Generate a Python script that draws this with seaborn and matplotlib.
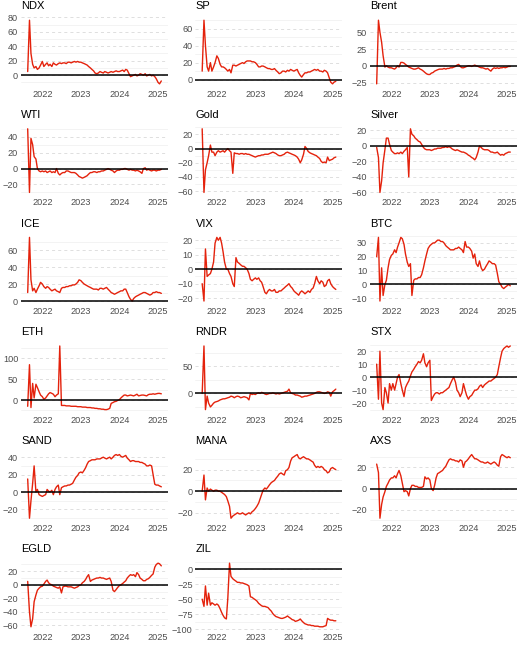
import pandas as pd
import matplotlib.pyplot as plt
import matplotlib.dates as mdates
from matplotlib.ticker import AutoMinorLocator
import seaborn as sns

# half-monthly observation dates (1st and 15th)
dates = pd.date_range('2021-08-15', '2025-02-01', freq='SMS')

assets = ['NDX', 'SP', 'Brent', 'WTI', 'Gold', 'Silver', 'ICE', 'VIX', 'BTC',
          'ETH', 'RNDR', 'STX', 'SAND', 'MANA', 'AXS', 'EGLD', 'ZIL']

# values, grouped: 2021 | 2022 | 2023 | 2024 | 2025
ndx = [5, 76, 30, 15, 10, 12, 8, 10, 14,
       19, 12, 15, 17, 13, 15, 12, 17, 15, 14, 16, 17, 16, 17, 17, 16, 18, 18, 17, 18, 19, 18, 19, 18,
       18, 17, 16, 15, 14, 12, 10, 8, 6, 3, 2, 3, 5, 4, 3, 5, 4, 3, 4, 5, 4, 5, 6, 5,
       5, 6, 7, 5, 8, 7, 2, -2, -1, 0, 1, -1, 0, 2, 1, 0, 2, -1, 0, 1, -1, 0, -2, -5,
       -10, -12, -8]
sp = [10, 70, 40, 15, 10, 20, 10, 15, 20,
      28, 25, 18, 15, 15, 14, 12, 10, 12, 8, 17, 17, 16, 17, 18, 19, 20, 19, 21, 22, 22, 22, 21, 21,
      20, 18, 15, 15, 16, 16, 15, 14, 13, 13, 12, 12, 13, 11, 9, 7, 8, 10, 10, 9, 11, 10, 12, 11,
      10, 11, 12, 8, 5, 3, 6, 8, 8, 9, 9, 10, 11, 12, 11, 12, 10, 10, 9, 11, 10, 8, 2, -3,
      -5, -3, -2]
brent = [-27, 68, 50, 35, 15, -2, 0, -2, -3,
         -3, -4, -5, -3, 0, -2, 5, 5, 4, 2, 0, -2, -3, -4, -5, -5, -4, -3, -5, -6, -8, -10, -12, -13,
         -13, -11, -10, -8, -7, -6, -5, -5, -5, -4, -5, -4, -4, -3, -3, -2, -1, 1, 2, -1, -3, -3, -2, -1,
         0, 0, -1, 0, 1, 0, -1, -2, -3, -3, -4, -5, -4, -6, -8, -5, -3, -4, -3, -4, -3, -3, -2, -3,
         -2, -1, -1]
wti = [50, -30, 38, 30, 15, 12, 0, -3, -4,
       -3, -4, -3, -5, -4, -3, -5, -4, -5, 0, -6, -8, -6, -5, -5, -3, -3, -4, -5, -5, -5, -6, -8, -10,
       -11, -12, -11, -10, -9, -7, -5, -5, -4, -4, -5, -4, -4, -3, -3, -2, -1, 0, -1, -2, -3, -5, -3, -2,
       -2, -1, -1, 0, 0, -1, -2, -1, -2, -2, -3, -2, -3, -4, -6, 0, 1, -2, -1, -2, -3, -2, -2, -3,
       -2, -2, -1]
gold = [28, -62, -30, -20, -10, 5, -5, -5, -10,
        -5, -3, -5, -4, -3, -5, -2, 0, -3, -5, -35, -6, -7, -7, -8, -7, -7, -8, -7, -8, -8, -9, -10, -11,
        -12, -11, -10, -10, -9, -9, -8, -8, -8, -7, -6, -5, -6, -7, -9, -10, -10, -9, -8, -6, -5, -6, -7, -8,
        -9, -10, -12, -15, -20, -16, -8, 3, 0, -4, -6, -7, -8, -9, -10, -12, -14, -18, -20, -19, -20, -12, -17, -16,
        -15, -13, -12]
silver = [-2, -15, -60, -45, -22, -5, 10, 10, 2,
          -6, -8, -10, -10, -9, -10, -8, -10, -7, -5, -2, -40, 22, 15, 13, 10, 8, 6, 5, 2, -2, -4, -5, -5,
          -5, -6, -5, -4, -4, -3, -3, -3, -2, -2, -1, -2, -1, -2, -4, -5, -6, -5, -6, -7, -8, -8, -9, -10,
          -12, -13, -15, -16, -18, -15, -8, 0, -2, -4, -5, -5, -5, -6, -8, -8, -9, -9, -8, -10, -12, -11, -12, -10,
          -9, -8, -8]
ice = [10, 75, 25, 12, 15, 10, 14, 18, 22,
       20, 17, 15, 17, 16, 14, 12, 13, 14, 12, 11, 10, 15, 16, 16, 17, 17, 18, 18, 19, 19, 20, 22, 25,
       24, 22, 20, 19, 18, 17, 16, 15, 14, 14, 14, 13, 15, 15, 14, 15, 16, 14, 12, 10, 9, 8, 9, 10,
       11, 12, 12, 14, 14, 10, 5, 2, 0, 3, 5, 6, 7, 8, 9, 10, 10, 9, 8, 7, 8, 10, 10, 11,
       10, 10, 9]
vix = [-10, -22, 14, -5, -4, -3, 0, 5, 18,
       22, 20, 22, 18, 12, 5, 0, 0, -3, -5, -10, -12, 8, 5, 4, 3, 2, 2, 1, 0, -3, -7, -8, -7,
       -6, -7, -6, -8, -9, -12, -16, -17, -15, -14, -15, -15, -14, -16, -16, -15, -15, -14, -13, -12, -11, -10, -12, -13,
       -15, -16, -17, -18, -16, -15, -16, -17, -16, -15, -16, -14, -13, -10, -5, -8, -10, -8, -9, -12, -11, -8, -7, -10,
       -12, -13, -14]
btc = [20, 34, -12, 12, -8, 0, 3, 12, 18,
       21, 22, 25, 23, 27, 30, 34, 33, 29, 22, 16, 13, 15, -8, 3, 4, 4, 5, 5, 7, 12, 17, 22, 26,
       28, 29, 30, 30, 31, 32, 32, 31, 31, 30, 28, 27, 26, 25, 25, 25, 26, 26, 27, 26, 25, 23, 31, 27,
       27, 26, 24, 19, 22, 15, 13, 17, 12, 10, 11, 13, 15, 17, 16, 15, 15, 14, 8, 2, 0, -2, -3, -2,
       -1, 0, -1]
eth = [-15, 85, -18, 40, 5, 38, 30, 20, 12,
       8, 2, 5, 10, 15, 18, 16, 14, 8, 12, 15, 130, -13, -13, -13, -14, -14, -14, -15, -15, -15, -15, -16, -16,
       -16, -17, -17, -17, -18, -18, -18, -19, -19, -20, -20, -21, -21, -22, -22, -23, -23, -22, -20, -8, -6, -4, -3, -1,
       1, 5, 9, 12, 12, 10, 11, 12, 11, 10, 12, 14, 10, 11, 12, 12, 11, 10, 13, 14, 14, 15, 14, 15,
       16, 16, 15]
rndr = [0, 88, -30, -5, -18, -25, -22, -18, -16,
        -15, -14, -12, -11, -10, -10, -9, -8, -7, -5, -6, -8, -6, -5, -6, -8, -7, -6, -7, -8, -12, 0, -2, -1,
        -2, 0, 1, 0, 2, 1, -1, -2, -1, 0, 0, 1, 0, -1, 0, -1, 0, 1, 2, 3, 4, 8, 1, 0,
        -1, -3, -3, -4, -5, -7, -6, -5, -5, -4, -3, -2, -1, 0, 2, 3, 3, 2, 1, 0, 1, 3, 2, -5,
        3, 5, 8]
stx = [10, -17, 20, -20, -25, -8, -12, -20, -5,
       -10, -5, -10, -5, 0, 2, -5, -10, -15, -8, -5, -3, 1, 4, 6, 8, 10, 12, 11, 13, 18, 11, 8, 11,
       13, -18, -15, -13, -12, -12, -13, -12, -12, -11, -10, -9, -8, -5, -2, 0, -4, -10, -12, -15, -12, -5, -10, -14,
       -17, -15, -14, -12, -10, -10, -9, -7, -6, -8, -6, -5, -4, -3, -3, -2, -1, 0, 2, 8, 15, 20, 22, 23,
       24, 23, 24]
sand = [15, -30, -10, 10, 30, 0, 3, -3, -4,
        -5, -4, -3, 3, 1, 0, 2, -3, 3, 6, 8, -3, 5, 6, 7, 7, 8, 8, 9, 10, 14, 17, 19, 22,
        23, 22, 25, 28, 32, 35, 36, 37, 37, 37, 38, 38, 38, 39, 40, 39, 38, 39, 40, 38, 40, 42, 43, 42,
        43, 41, 40, 41, 42, 39, 37, 35, 36, 36, 35, 35, 35, 34, 34, 33, 32, 30, 30, 31, 30, 20, 9, 8,
        8, 7, 6]
mana = [0, 15, -8, 3, 0, 2, 1, 0, 1,
        1, 0, 0, -1, -2, -3, -5, -9, -14, -25, -23, -22, -21, -20, -21, -21, -20, -21, -22, -21, -20, -21, -19, -18,
        -16, -14, -11, -7, -3, 1, 3, 2, 4, 6, 8, 9, 10, 12, 14, 16, 17, 16, 15, 19, 20, 22, 28, 31,
        32, 33, 34, 31, 30, 31, 32, 31, 30, 30, 29, 28, 27, 24, 22, 23, 22, 23, 22, 20, 19, 17, 18, 21,
        22, 21, 20]
axs = [23, 15, -28, -15, -8, -3, 2, 5, 8,
       10, 10, 12, 10, 14, 17, 12, 5, -3, -2, -3, -7, 0, 3, 3, 2, 2, 1, 1, 1, 2, 11, 9, 10,
       8, 0, -2, 3, 10, 14, 15, 16, 17, 19, 21, 24, 27, 28, 27, 27, 26, 26, 25, 27, 26, 20, 25, 26,
       28, 30, 32, 30, 28, 28, 27, 26, 25, 25, 24, 24, 25, 24, 23, 24, 25, 24, 22, 21, 30, 32, 31, 30,
       29, 30, 29]
egld = [5, -40, -62, -50, -25, -15, -8, -5, -3,
        -2, 1, 5, 7, 3, 1, 0, -2, -3, -4, -5, -3, -12, -3, -2, -2, -3, -3, -3, -4, -5, -4, -3, -1,
        0, 3, 5, 8, 12, 15, 5, 7, 8, 9, 10, 10, 11, 10, 10, 9, 8, 9, 10, 5, -8, -10, -7, -4,
        -1, 0, 2, 4, 6, 10, 13, 15, 14, 15, 12, 18, 15, 10, 8, 6, 6, 8, 9, 11, 14, 16, 26, 30,
        32, 31, 28]
zil = [-50, -62, -28, -60, -40, -60, -56, -58, -60,
       -58, -60, -66, -72, -77, -81, -83, -48, 10, -12, -16, -18, -20, -22, -22, -23, -23, -24, -25, -26, -28, -46, -47, -49,
       -51, -53, -57, -59, -61, -62, -62, -63, -64, -67, -70, -74, -77, -79, -80, -81, -82, -82, -81, -80, -78, -80, -82, -84,
       -85, -87, -86, -85, -83, -86, -89, -91, -92, -93, -93, -94, -94, -95, -95, -95, -96, -96, -96, -95, -94, -82, -84, -85,
       -85, -86, -86]

series = [ndx, sp, brent, wti, gold, silver, ice, vix, btc,
          eth, rndr, stx, sand, mana, axs, egld, zil]

y_ticks = {
    'NDX': [0, 20, 40, 60, 80], 'SP': [0, 20, 40, 60], 'Brent': [-25, 0, 25, 50],
    'WTI': [-20, 0, 20, 40], 'Gold': [-60, -40, -20, 0, 20], 'Silver': [-60, -40, -20, 0, 20],
    'ICE': [0, 20, 40, 60], 'VIX': [-20, -10, 0, 10, 20], 'BTC': [-10, 0, 10, 20, 30],
    'ETH': [0, 50, 100], 'RNDR': [0, 50], 'STX': [-20, -10, 0, 10, 20],
    'SAND': [-20, 0, 20, 40], 'MANA': [-20, 0, 20], 'AXS': [-20, 0, 20],
    'EGLD': [-60, -40, -20, 0, 20], 'ZIL': [-100, -75, -50, -25, 0],
}

df = pd.concat([pd.DataFrame({'date': dates, 'asset': a, 'value': v})
                for a, v in zip(assets, series)], ignore_index=True)

sns.set_theme(style='white')
plt.rcParams['font.family'] = ['Liberation Sans', 'DejaVu Sans']

fig, axes = plt.subplots(6, 3, figsize=(5.2, 6.45), dpi=100)
plt.subplots_adjust(left=0.0404, right=0.9942, top=0.9736, bottom=0.0233,
                    wspace=0.187, hspace=0.551)

for ax, name in zip(axes.flat, assets):
    sub = df[df['asset'] == name]
    sns.lineplot(data=sub, x='date', y='value', ax=ax, color='#e4220c', linewidth=1.0)
    ax.axhline(0, color='black', linewidth=1.1, zorder=3)
    ax.set_yticks(y_ticks[name])
    ax.yaxis.set_minor_locator(AutoMinorLocator(2))
    ax.xaxis.set_major_locator(mdates.YearLocator())
    ax.xaxis.set_major_formatter(mdates.DateFormatter('%Y'))
    ax.grid(axis='y', which='major', color='#d6d6d6', linestyle=(0, (4, 4)), linewidth=0.55)
    ax.grid(axis='y', which='minor', color='#efefef', linewidth=0.5)
    ax.grid(axis='x', visible=False)
    ax.tick_params(which='both', length=0, labelsize=6.6, labelcolor='#4d4d4d', pad=2)
    ax.set_xlabel('')
    ax.set_ylabel('')
    ax.set_title(name, loc='left', fontsize=8, pad=5.5, color='black')
    sns.despine(ax=ax, left=True, bottom=True)

axes.flat[-1].axis('off')

fig.savefig('out.png', dpi=100)
